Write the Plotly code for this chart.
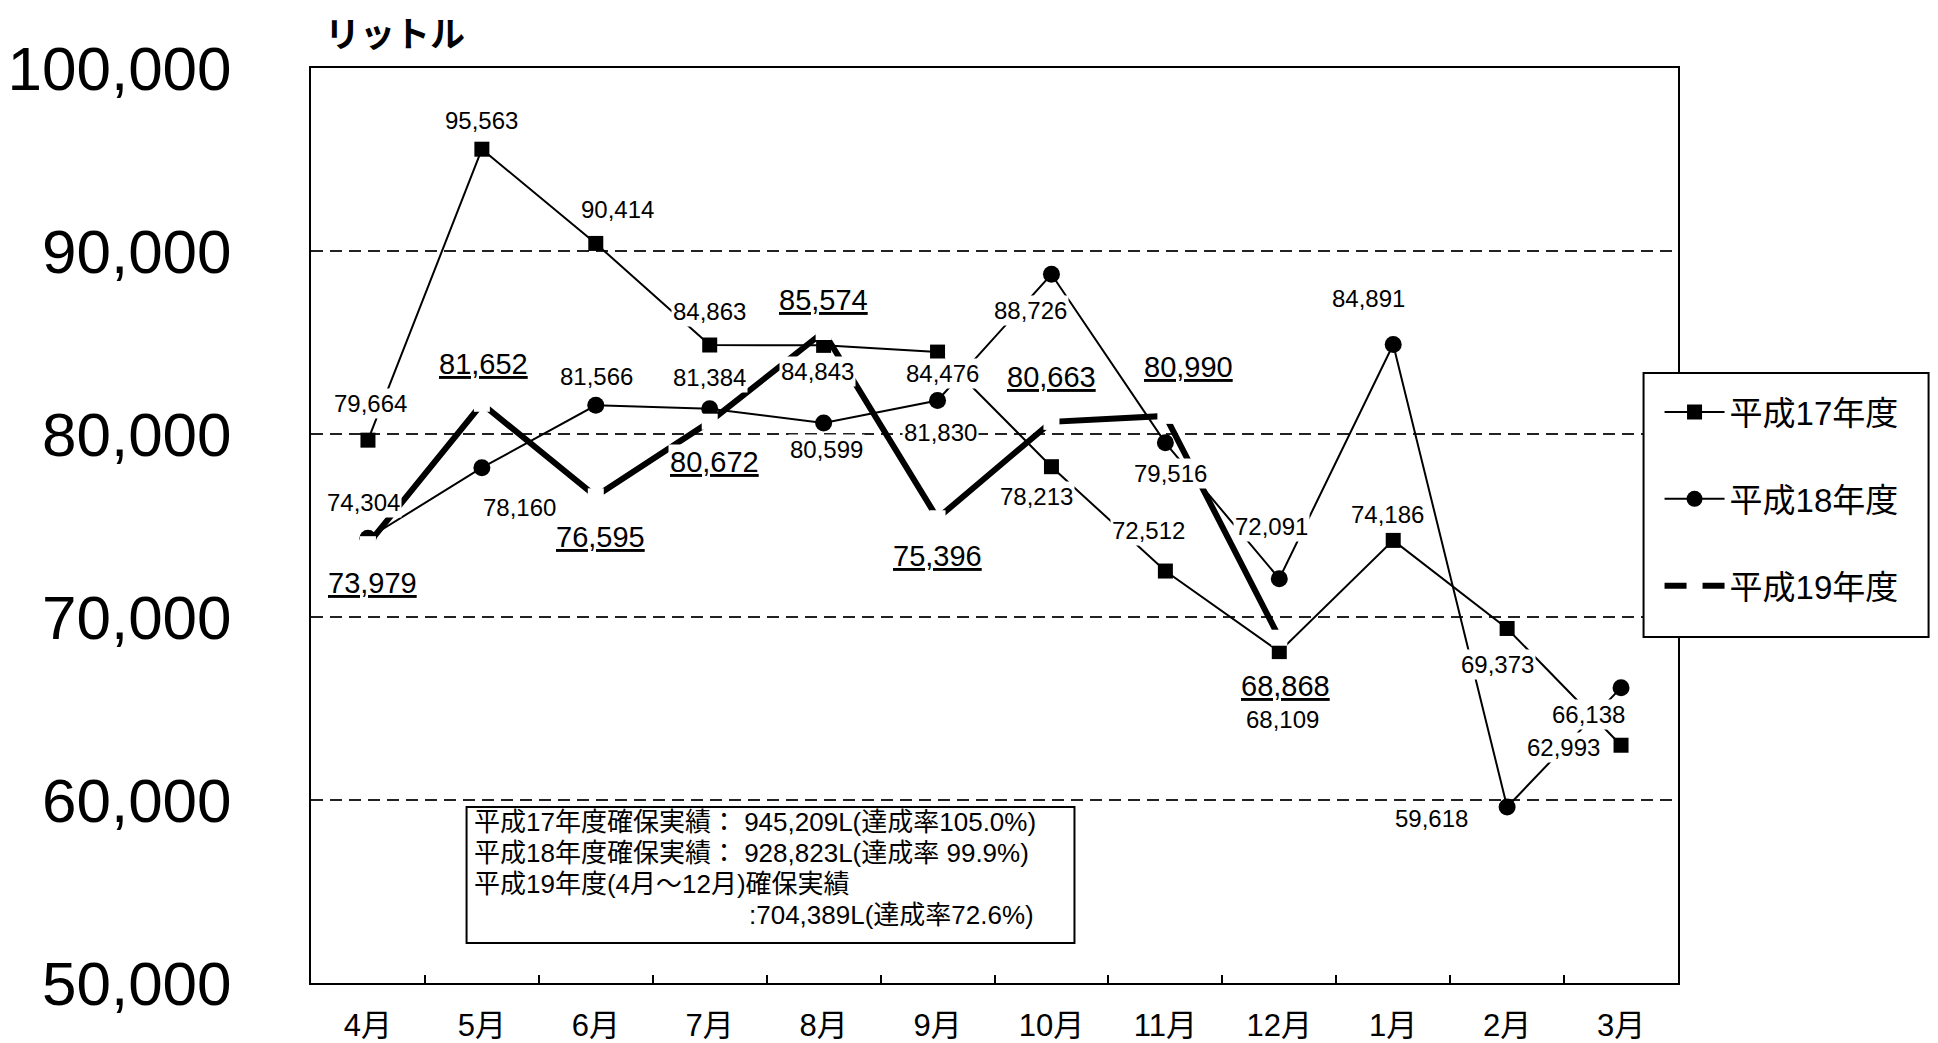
import plotly.graph_objects as go

# Monthly collected volume (litres), fiscal years H17-H19
months = ["4月", "5月", "6月", "7月", "8月", "9月", "10月", "11月", "12月", "1月", "2月", "3月"]
h17 = [79664, 95563, 90414, 84863, 84843, 84476, 78213, 72512, 68109, 74186, 69373, 62993]
h18 = [74304, 78160, 81566, 81384, 80599, 81830, 88726, 79516, 72091, 84891, 59618, 66138]
h19 = [73979, 81652, 76595, 80672, 85574, 75396, 80663, 80990, 68868]
series_names = ["平成17年度", "平成18年度", "平成19年度"]
y_ticks = [50000, 60000, 70000, 80000, 90000, 100000]
y_unit = "リットル"
summary_lines = [
    "平成17年度確保実績： 945,209L(達成率105.0%)",
    "平成18年度確保実績： 928,823L(達成率 99.9%)",
    "平成19年度(4月～12月)確保実績",
]
summary_tail = ":704,389L(達成率72.6%)"

# label placement offsets in pixels (dx right, dy down) for each point label
off17 = [(3, -37), (0, -29), (22, -34), (0, -34), (-6, 26), (5, 21),
         (-15, 30), (-17, -41), (3, 68), (-6, -26), (-10, 36), (-58, 2)]
off18 = [(-4, -36), (38, 40), (1, -29), (0, -31), (3, 26), (3, 32),
         (-21, 36), (5, 31), (-8, -52), (-25, -46), (-76, 12), (-33, 27)]
off19 = [(5, 39), (2, -40), (5, 41), (5, 40), (0, -32), (0, 38),
         (0, -45), (23, -49), (6, 48)]

LAT = "Liberation Sans, Arial, Noto Sans CJK JP"
CJK = "Liberation Sans, Noto Sans CJK JP"

fig = go.Figure()

fig.add_trace(go.Scatter(
    x=months, y=h17, name=series_names[0], mode="lines+markers",
    line=dict(color="black", width=2),
    marker=dict(symbol="square", size=15, color="black"),
    legendgroup="g17",
))
fig.add_trace(go.Scatter(
    x=months, y=h18, name=series_names[1], mode="lines+markers",
    line=dict(color="black", width=2),
    marker=dict(symbol="circle", size=17, color="black"),
    legendgroup="g18",
))
fig.add_trace(go.Scatter(
    x=months[:len(h19)], y=h19, name=series_names[2], mode="lines+markers",
    line=dict(color="black", width=6),
    marker=dict(symbol="square", size=16, color="white", line=dict(width=0)),
    legendgroup="g19",
))

annotations = []


def add_labels(values, offsets, size, underline):
    for m, v, (dx, dy) in zip(months, values, offsets):
        txt = f"{v:,}"
        if underline:
            txt = f"<u>{txt}</u>"
        annotations.append(dict(
            x=m, y=v, xref="x", yref="y", text=txt, showarrow=False,
            xshift=dx, yshift=-dy, bgcolor="white", borderpad=1,
            font=dict(family=LAT, size=size, color="black"),
        ))


add_labels(h17, off17, 24, False)
add_labels(h18, off18, 24, False)
add_labels(h19, off19, 29, True)

# unit caption above the value axis
annotations.append(dict(
    x=0.009, y=1.04, xref="paper", yref="paper", xanchor="left", yanchor="middle",
    text=f"<b>{y_unit}</b>", showarrow=False,
    font=dict(family="Noto Sans CJK JP", size=35, color="black"),
))

# summary box text
line_y = [0.176, 0.142, 0.108]
for t, yy in zip(summary_lines, line_y):
    annotations.append(dict(
        x=0.1176, y=yy, xref="paper", yref="paper", xanchor="left", yanchor="middle",
        text=t, showarrow=False, font=dict(family=CJK, size=26, color="black"),
    ))
annotations.append(dict(
    x=0.319, y=0.0743, xref="paper", yref="paper", xanchor="left", yanchor="middle",
    text=summary_tail, showarrow=False, font=dict(family=CJK, size=26, color="black"),
))

fig.update_layout(
    width=1938, height=1043,
    margin=dict(l=311, r=260, t=68, b=60, autoexpand=False),
    paper_bgcolor="white", plot_bgcolor="white",
    showlegend=True,
    legend=dict(
        x=0.9865, y=0.6689, xanchor="left", yanchor="top",
        bgcolor="rgba(0,0,0,0)", borderwidth=0,
        font=dict(family=CJK, size=33, color="black"),
        traceorder="grouped", tracegroupgap=41, itemwidth=60,
        title=dict(text=" ", font=dict(size=10)),
    ),
    annotations=annotations,
    shapes=[
        # summary box
        dict(type="rect", xref="paper", yref="paper",
             x0=0.1138, x1=0.5585, y0=0.0437, y1=0.1923,
             line=dict(color="black", width=2), fillcolor="white", layer="above"),
        # legend frame
        dict(type="rect", xref="paper", yref="paper",
             x0=0.9748, x1=1.1833, y0=0.3781, y1=0.6667,
             line=dict(color="black", width=2), fillcolor="white", layer="above"),
    ],
    xaxis=dict(
        type="category", categoryorder="array", categoryarray=months,
        range=[-0.5, len(months) - 0.5], automargin=False,
        showline=True, linecolor="black", linewidth=2, mirror=True,
        ticks="inside", tickson="boundaries", ticklen=8, tickcolor="black", tickwidth=1.5,
        showgrid=False, ticklabelstandoff=14,
        tickfont=dict(family=CJK, size=31, color="black"),
    ),
    yaxis=dict(
        range=[y_ticks[0], y_ticks[-1]], tickvals=y_ticks, tickformat=",d",
        automargin=False,
        showline=True, linecolor="black", linewidth=2, mirror=True,
        showgrid=True, gridcolor="#222222", gridwidth=1.5, griddash="12px,7px",
        zeroline=False, ticks="", ticklabelstandoff=65,
        tickfont=dict(family=LAT, size=62, color="black"),
    ),
)

fig.write_html("out.html")
